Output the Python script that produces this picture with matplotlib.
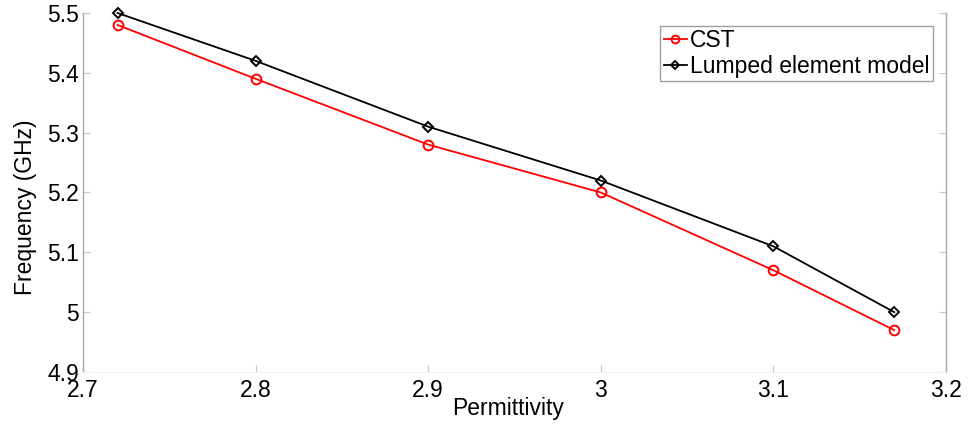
import matplotlib
matplotlib.use("Agg")
import matplotlib.pyplot as plt

# data
permittivity = [2.72, 2.8, 2.9, 3.0, 3.1, 3.17]
freq_cst = [5.48, 5.39, 5.28, 5.20, 5.07, 4.97]
freq_lumped = [5.50, 5.42, 5.31, 5.22, 5.11, 5.00]
xticks = [2.7, 2.8, 2.9, 3.0, 3.1, 3.2]
yticks = [4.9, 5.0, 5.1, 5.2, 5.3, 5.4, 5.5]
xtick_labels = ["2.7", "2.8", "2.9", "3", "3.1", "3.2"]
ytick_labels = ["4.9", "5", "5.1", "5.2", "5.3", "5.4", "5.5"]

plt.rcParams["font.family"] = ["Liberation Sans", "DejaVu Sans"]
fs = 16.5

fig = plt.figure(figsize=(9.71, 4.26), dpi=100)
ax = fig.add_axes([0.0855, 0.1268, 0.8888, 0.8427])

ax.plot(permittivity, freq_cst, color="red", lw=1.3, marker="o", ms=7,
        mfc="none", mec="red", mew=1.4, label="CST", clip_on=False)
ax.plot(permittivity, freq_lumped, color="black", lw=1.3, marker="D", ms=5.5,
        mfc="none", mec="black", mew=1.4, label="Lumped element model",
        clip_on=False)

ax.set_xlim(2.7, 3.2)
ax.set_ylim(4.9, 5.5)
ax.set_xticks(xticks)
ax.set_xticklabels(xtick_labels)
ax.set_yticks(yticks)
ax.set_yticklabels(ytick_labels)
ax.tick_params(direction="in", length=5, width=0.8, color="#c8c8c8",
               labelsize=fs, right=True, top=False)
ax.tick_params(axis="y", pad=3)
ax.tick_params(axis="x", pad=5)

for side in ["left", "right"]:
    ax.spines[side].set_color("#a8a8a8")
    ax.spines[side].set_linewidth(1.0)
ax.spines["bottom"].set_color("#f2f2f2")
ax.spines["top"].set_visible(False)

ax.set_xlabel("Permittivity", fontsize=fs)
ax.set_ylabel("Frequency (GHz)", fontsize=fs)
ax.xaxis.set_label_coords(0.493, -0.07)
ax.yaxis.set_label_coords(-0.053, 0.46)

leg = ax.legend(loc="upper right", bbox_to_anchor=(0.985, 0.964),
                borderaxespad=0, fontsize=fs, handlelength=1.0,
                handletextpad=0.15, borderpad=0.15, labelspacing=0.1,
                fancybox=False, framealpha=1, markerscale=0.8)
leg.get_frame().set_edgecolor("#a0a0a0")
leg.get_frame().set_linewidth(1.0)

fig.savefig("out.png", dpi=100)
